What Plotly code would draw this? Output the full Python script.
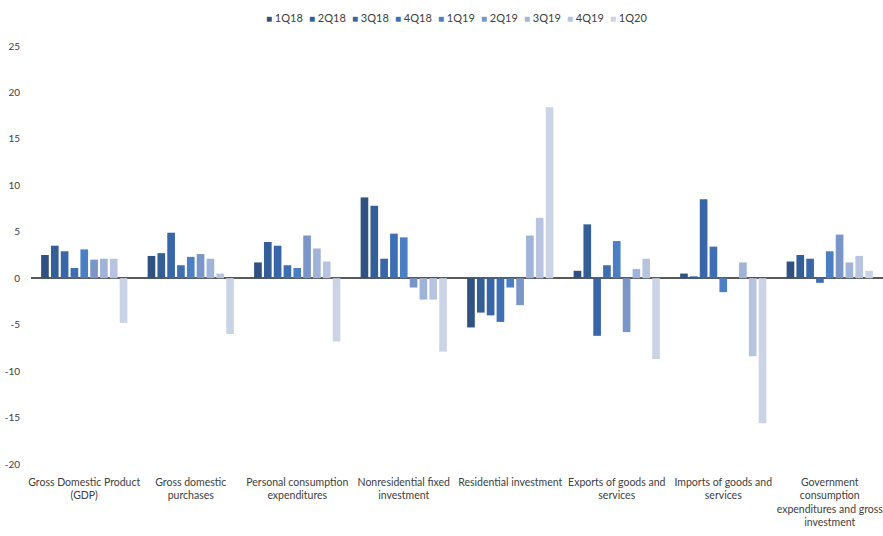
import plotly.graph_objects as go

categories = [
    "Gross Domestic Product<br>(GDP)",
    "Gross domestic<br>purchases",
    "Personal consumption<br>expenditures",
    "Nonresidential fixed<br>investment",
    "Residential investment",
    "Exports of goods and<br>services",
    "Imports of goods and<br>services",
    "Government<br>consumption<br>expenditures and gross<br>investment",
]

quarters = ["1Q18", "2Q18", "3Q18", "4Q18", "1Q19", "2Q19", "3Q19", "4Q19", "1Q20"]

q1_18 = [2.5, 2.4, 1.7, 8.7, -5.3, 0.8, 0.5, 1.8]
q2_18 = [3.5, 2.7, 3.9, 7.8, -3.7, 5.8, 0.2, 2.5]
q3_18 = [2.9, 4.9, 3.5, 2.1, -4.0, -6.2, 8.5, 2.1]
q4_18 = [1.1, 1.4, 1.4, 4.8, -4.7, 1.4, 3.4, -0.5]
q1_19 = [3.1, 2.3, 1.1, 4.4, -1.0, 4.0, -1.5, 2.9]
q2_19 = [2.0, 2.6, 4.6, -1.0, -2.9, -5.8, 0.0, 4.7]
q3_19 = [2.1, 2.1, 3.2, -2.3, 4.6, 1.0, 1.7, 1.7]
q4_19 = [2.1, 0.5, 1.8, -2.3, 6.5, 2.1, -8.4, 2.4]
q1_20 = [-4.8, -6.0, -6.8, -7.9, 18.4, -8.7, -15.6, 0.8]

series = [q1_18, q2_18, q3_18, q4_18, q1_19, q2_19, q3_19, q4_19, q1_20]
colors = ["#2F5283", "#335E96", "#3866A8", "#3E6FB3", "#4A7FC4",
          "#7A95C8", "#A0B3D9", "#B8C4DF", "#CBD3E7"]

y_ticks = [-20, -15, -10, -5, 0, 5, 10, 15, 20, 25]
y_tick_text = ["-20", "-15", "-10", "-5", "0", "5", "10", "15", "20", "25"]

font_family = "Lato, Roboto, sans-serif"
text_color = "#404040"

fig = go.Figure()
for name, vals, col in zip(quarters, series, colors):
    fig.add_trace(go.Bar(name=name, x=categories, y=vals,
                         marker=dict(color=col, line=dict(width=0)),
                         showlegend=False))

# Compact legend drawn as text annotations (one per quarter)
W = 883
l_margin, r_margin = 31, 0
plot_w = W - l_margin - r_margin
legend_start_px = 264
legend_step_px = 43
for i, (name, col) in enumerate(zip(quarters, colors)):
    px = legend_start_px + i * legend_step_px
    fig.add_annotation(
        xref="paper", yref="paper",
        x=(px - l_margin) / plot_w, y=1.0, yshift=29,
        xanchor="left", yanchor="middle", showarrow=False,
        text=f"<span style='color:{col}; font-size:10px'>■</span> {name}",
        font=dict(family=font_family, size=11, color=text_color),
    )

fig.update_layout(
    width=883, height=536,
    margin=dict(l=l_margin, r=r_margin, t=46, b=72),
    paper_bgcolor="white", plot_bgcolor="white",
    barmode="group", bargap=0.17, bargroupgap=0.22,
    font=dict(family=font_family, size=10.5, color=text_color),
    showlegend=False,
    xaxis=dict(showline=False, showgrid=False, ticks="", tickangle=0,
               tickfont=dict(size=10.5, color=text_color), ticklabelstandoff=10),
    yaxis=dict(range=[-20, 25], tickvals=y_ticks, ticktext=y_tick_text,
               showgrid=False, showline=False,
               zeroline=True, zerolinecolor="#595959", zerolinewidth=1.5,
               tickfont=dict(size=10, color=text_color), ticks="",
               ticklabelstandoff=10),
)

fig.write_html("out.html")
